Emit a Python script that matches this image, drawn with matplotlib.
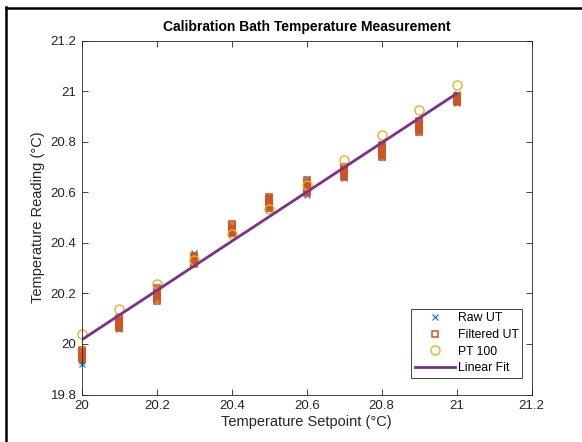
import numpy as np
import matplotlib
matplotlib.use("Agg")
import matplotlib.pyplot as plt
from matplotlib.lines import Line2D

plt.rcParams['font.family'] = ['Liberation Sans', 'DejaVu Sans']

# setpoints of the bath (degC)
setpoints = [20.0, 20.1, 20.2, 20.3, 20.4, 20.5, 20.6, 20.7, 20.8, 20.9, 21.0]

# raw ultrasonic readings, several samples per setpoint
raw_ut = [
    [19.972, 19.962, 19.951, 19.940, 19.931, 19.920],
    [20.098, 20.090, 20.081, 20.073, 20.066, 20.058],
    [20.215, 20.208, 20.200, 20.193, 20.186, 20.180],
    [20.358, 20.350, 20.341, 20.334, 20.328, 20.322],
    [20.465, 20.459, 20.452, 20.446, 20.441, 20.435],
    [20.586, 20.576, 20.565, 20.555, 20.545, 20.535],
    [20.651, 20.639, 20.627, 20.615, 20.602, 20.590],
    [20.698, 20.690, 20.681, 20.673, 20.665, 20.657],
    [20.792, 20.781, 20.770, 20.759, 20.748, 20.738],
    [20.882, 20.873, 20.864, 20.856, 20.847, 20.838],
    [20.988, 20.981, 20.973, 20.966, 20.959, 20.952],
]

# filtered ultrasonic readings
filtered_ut = [
    [19.976, 19.970, 19.963, 19.957, 19.951, 19.945, 19.939],
    [20.101, 20.095, 20.089, 20.082, 20.076, 20.070, 20.064],
    [20.222, 20.213, 20.205, 20.196, 20.187, 20.178, 20.170],
    [20.346, 20.341, 20.337, 20.332, 20.327, 20.322, 20.318],
    [20.475, 20.469, 20.463, 20.456, 20.450, 20.444, 20.438],
    [20.583, 20.575, 20.568, 20.560, 20.552, 20.544, 20.537],
    [20.647, 20.638, 20.630, 20.621, 20.613, 20.604, 20.596],
    [20.701, 20.695, 20.688, 20.682, 20.675, 20.668, 20.662],
    [20.785, 20.778, 20.770, 20.763, 20.756, 20.748, 20.741],
    [20.883, 20.876, 20.868, 20.861, 20.854, 20.846, 20.839],
    [20.982, 20.978, 20.974, 20.970, 20.966, 20.962, 20.958],
]

# reference PT100 reading
pt100 = [20.039, 20.138, 20.237, 20.332, 20.434, 20.532, 20.628, 20.727, 20.828, 20.924, 21.025]

# linear fit coefficients (slope, intercept)
fit_coef = [0.973, 20.017 - 0.973 * 20.0]

xticks = [20, 20.2, 20.4, 20.6, 20.8, 21, 21.2]
yticks = [19.8, 20, 20.2, 20.4, 20.6, 20.8, 21, 21.2]
xticklabels = ['20', '20.2', '20.4', '20.6', '20.8', '21', '21.2']
yticklabels = ['19.8', '20', '20.2', '20.4', '20.6', '20.8', '21', '21.2']

fig = plt.figure(figsize=(5.82, 4.42), dpi=100)
ax = fig.add_axes([82 / 582, 1 - 394.5 / 442, 449.5 / 582, 354 / 442])

raw_x = np.repeat(setpoints, [len(r) for r in raw_ut])
filt_x = np.repeat(setpoints, [len(f) for f in filtered_ut])

ax.plot(raw_x, np.concatenate(raw_ut), 'x', color='#0072BD', ms=5, mew=0.8,
        label='Raw UT', clip_on=False)
ax.plot(filt_x, np.concatenate(filtered_ut), 's', color='#D95319', mfc='none', ms=5, mew=1.1,
        label='Filtered UT', clip_on=False)
ax.plot(setpoints, pt100, 'o', color='#EDB120', mfc='none', ms=6.5, mew=1.0,
        label='PT 100', clip_on=False)
fit_x = np.array([setpoints[0], setpoints[-1]])
ax.plot(fit_x, np.polyval(fit_coef, fit_x), '-', color='#7E2F8E', lw=2, label='Linear Fit')

ax.set_xlim(20, 21.2)
ax.set_ylim(19.8, 21.2)
ax.set_xticks(xticks)
ax.set_yticks(yticks)
ax.set_xticklabels(xticklabels)
ax.set_yticklabels(yticklabels)
ax.tick_params(direction='in', top=True, right=True, length=4, width=0.6,
               labelsize=9.5, colors='#262626', pad=4)
for s in ax.spines.values():
    s.set_color('#262626')
    s.set_linewidth(0.6)

ax.set_xlabel('Temperature Setpoint (°C)', fontsize=10.5, color='#262626', labelpad=2)
ax.set_ylabel('Temperature Reading (°C)', fontsize=10.5, color='#262626', labelpad=4)
ax.set_title('Calibration Bath Temperature Measurement', fontsize=10, fontweight='bold',
             pad=7)

leg = ax.legend(loc='lower right', bbox_to_anchor=(0.979, 0.047), borderaxespad=0,
                fontsize=8.8, frameon=True, fancybox=False, edgecolor='#262626',
                framealpha=1, handlelength=3.3, handletextpad=0.2, borderpad=0.3,
                labelspacing=0.38, numpoints=1)
leg.get_frame().set_linewidth(0.6)

# screenshot frame
fig.add_artist(Line2D([6 / 582, 6 / 582], [0, 1 - 7 / 442], transform=fig.transFigure,
                      color='black', lw=1.8))
fig.add_artist(Line2D([6 / 582, 1], [1 - 8 / 442, 1 - 8 / 442], transform=fig.transFigure,
                      color='black', lw=1.8))

fig.savefig('out.png', dpi=100)
